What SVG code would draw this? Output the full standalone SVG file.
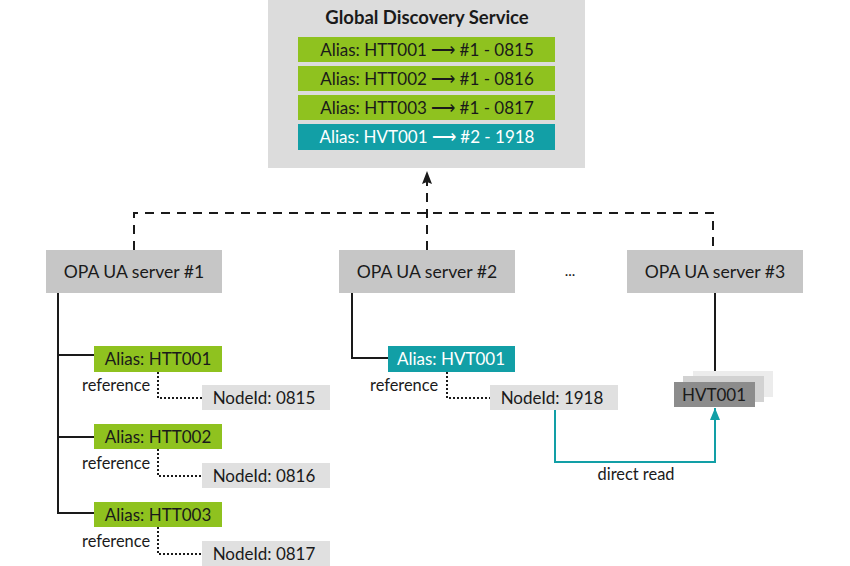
<svg xmlns="http://www.w3.org/2000/svg" width="850" height="566" viewBox="0 0 850 566">
<defs>
<style>
text{font-family:Lato,"Open Sans","Liberation Sans",sans-serif;fill:#1a1a1a}
.t{font-size:17px;text-anchor:middle}
.sv{font-size:17.6px;text-anchor:middle}
.w{fill:#ffffff}
.s{font-size:16.4px}
.green{fill:#8fc21f}
.teal{fill:#129fa6}
.srv{fill:#c6c6c6}
.nid{fill:#e0e0e0}
.solid{fill:none;stroke:#1a1a1a;stroke-width:2}
.dash{fill:none;stroke:#1a1a1a;stroke-width:2;stroke-dasharray:9 7}
.dot{fill:none;stroke:#1a1a1a;stroke-width:2;stroke-dasharray:2 2}
.tl{fill:none;stroke:#129fa6;stroke-width:2}
</style>
<marker id="ab" viewBox="0 0 13 10" refX="13" refY="5" markerWidth="13" markerHeight="10" markerUnits="userSpaceOnUse" orient="auto">
<path d="M13 5 L0 0 L2 5 L0 10 Z" fill="#1a1a1a"/>
</marker>
<marker id="at" viewBox="0 0 12 10" refX="12" refY="5" markerWidth="12" markerHeight="10" markerUnits="userSpaceOnUse" orient="auto">
<path d="M12 5 L0 0 L0 10 Z" fill="#129fa6"/>
</marker>
</defs>
<rect width="850" height="566" fill="#ffffff"/>

<g id="connectors">
<path class="dash" d="M134 250 V213 H713 V250"/>
<path class="dash" d="M427 250 V171" marker-end="url(#ab)"/>
<path class="solid" d="M58 293 V513 H94 M58 355 H94 M58 437 H94"/>
<path class="dot" d="M158 372 V398 H202"/>
<path class="dot" d="M158 449 V476 H202"/>
<path class="dot" d="M158 527 V554 H202"/>
<path class="solid" d="M352 293 V358 H388"/>
<path class="dot" d="M447 372 V398 H490"/>
<path class="solid" d="M715 293 V371"/>
<path class="tl" d="M555 410 V462 H715 V408" marker-end="url(#at)"/>
</g>

<g id="gds">
<rect x="268" y="0" width="317" height="168" fill="#dcdcdc"/>
<text x="427" y="24" font-size="18.5" font-weight="bold" text-anchor="middle">Global Discovery Service</text>
<rect class="green" x="298" y="37" width="257" height="25"/>
<text class="t" x="427" y="55.5">Alias: HTT001 ⟶ #1 - 0815</text>
<rect class="green" x="298" y="66" width="257" height="25"/>
<text class="t" x="427" y="84.5">Alias: HTT002 ⟶ #1 - 0816</text>
<rect class="green" x="298" y="95" width="257" height="25"/>
<text class="t" x="427" y="113.5">Alias: HTT003 ⟶ #1 - 0817</text>
<rect class="teal" x="298" y="124" width="257" height="26"/>
<text class="t w" x="427" y="143">Alias: HVT001 ⟶ #2 - 1918</text>
</g>

<g id="server1">
<rect class="srv" x="46" y="250" width="176" height="43"/>
<text class="sv" x="134" y="278">OPA UA server #1</text>
</g>
<g id="server2">
<rect class="srv" x="339" y="250" width="176" height="43"/>
<text class="sv" x="427" y="278">OPA UA server #2</text>
</g>
<g id="ellipsis">
<text x="570" y="276" font-size="15" text-anchor="middle">...</text>
</g>
<g id="server3">
<rect class="srv" x="627" y="250" width="176" height="43"/>
<text class="sv" x="715" y="278">OPA UA server #3</text>
</g>

<g id="alias-htt001">
<rect class="green" x="94" y="346" width="128" height="26"/>
<text class="t" x="158" y="365">Alias: HTT001</text>
</g>
<g id="node-0815">
<rect class="nid" x="202" y="385" width="128" height="25"/>
<text class="t" x="264" y="403.5">NodeId: 0815</text>
</g>
<g id="alias-htt002">
<rect class="green" x="94" y="424" width="128" height="25"/>
<text class="t" x="158" y="442.5">Alias: HTT002</text>
</g>
<g id="node-0816">
<rect class="nid" x="202" y="463" width="128" height="25"/>
<text class="t" x="264" y="481.5">NodeId: 0816</text>
</g>
<g id="alias-htt003">
<rect class="green" x="94" y="502" width="128" height="25"/>
<text class="t" x="158" y="520.5">Alias: HTT003</text>
</g>
<g id="node-0817">
<rect class="nid" x="202" y="541" width="128" height="25"/>
<text class="t" x="264" y="559.5">NodeId: 0817</text>
</g>
<g id="labels-reference">
<text class="s" x="82" y="391">reference</text>
<text class="s" x="82" y="469">reference</text>
<text class="s" x="82" y="547">reference</text>
<text class="s" x="370" y="391">reference</text>
</g>

<g id="alias-hvt001">
<rect class="teal" x="388" y="346" width="127" height="26"/>
<text class="t w" x="451" y="365">Alias: HVT001</text>
</g>
<g id="node-1918">
<rect class="nid" x="490" y="385" width="128" height="25"/>
<text class="t" x="552" y="403.5">NodeId: 1918</text>
</g>

<g id="hvt001">
<rect x="693" y="371" width="80" height="26" fill="#ececec"/>
<rect x="683" y="376" width="81" height="26" fill="#d2d2d2"/>
<rect x="674" y="382" width="81" height="25" fill="#8c8c8c"/>
<text class="t" x="714" y="400.5">HVT001</text>
</g>
<g id="label-direct-read">
<text class="s" x="636" y="480" text-anchor="middle">direct read</text>
</g>
</svg>
